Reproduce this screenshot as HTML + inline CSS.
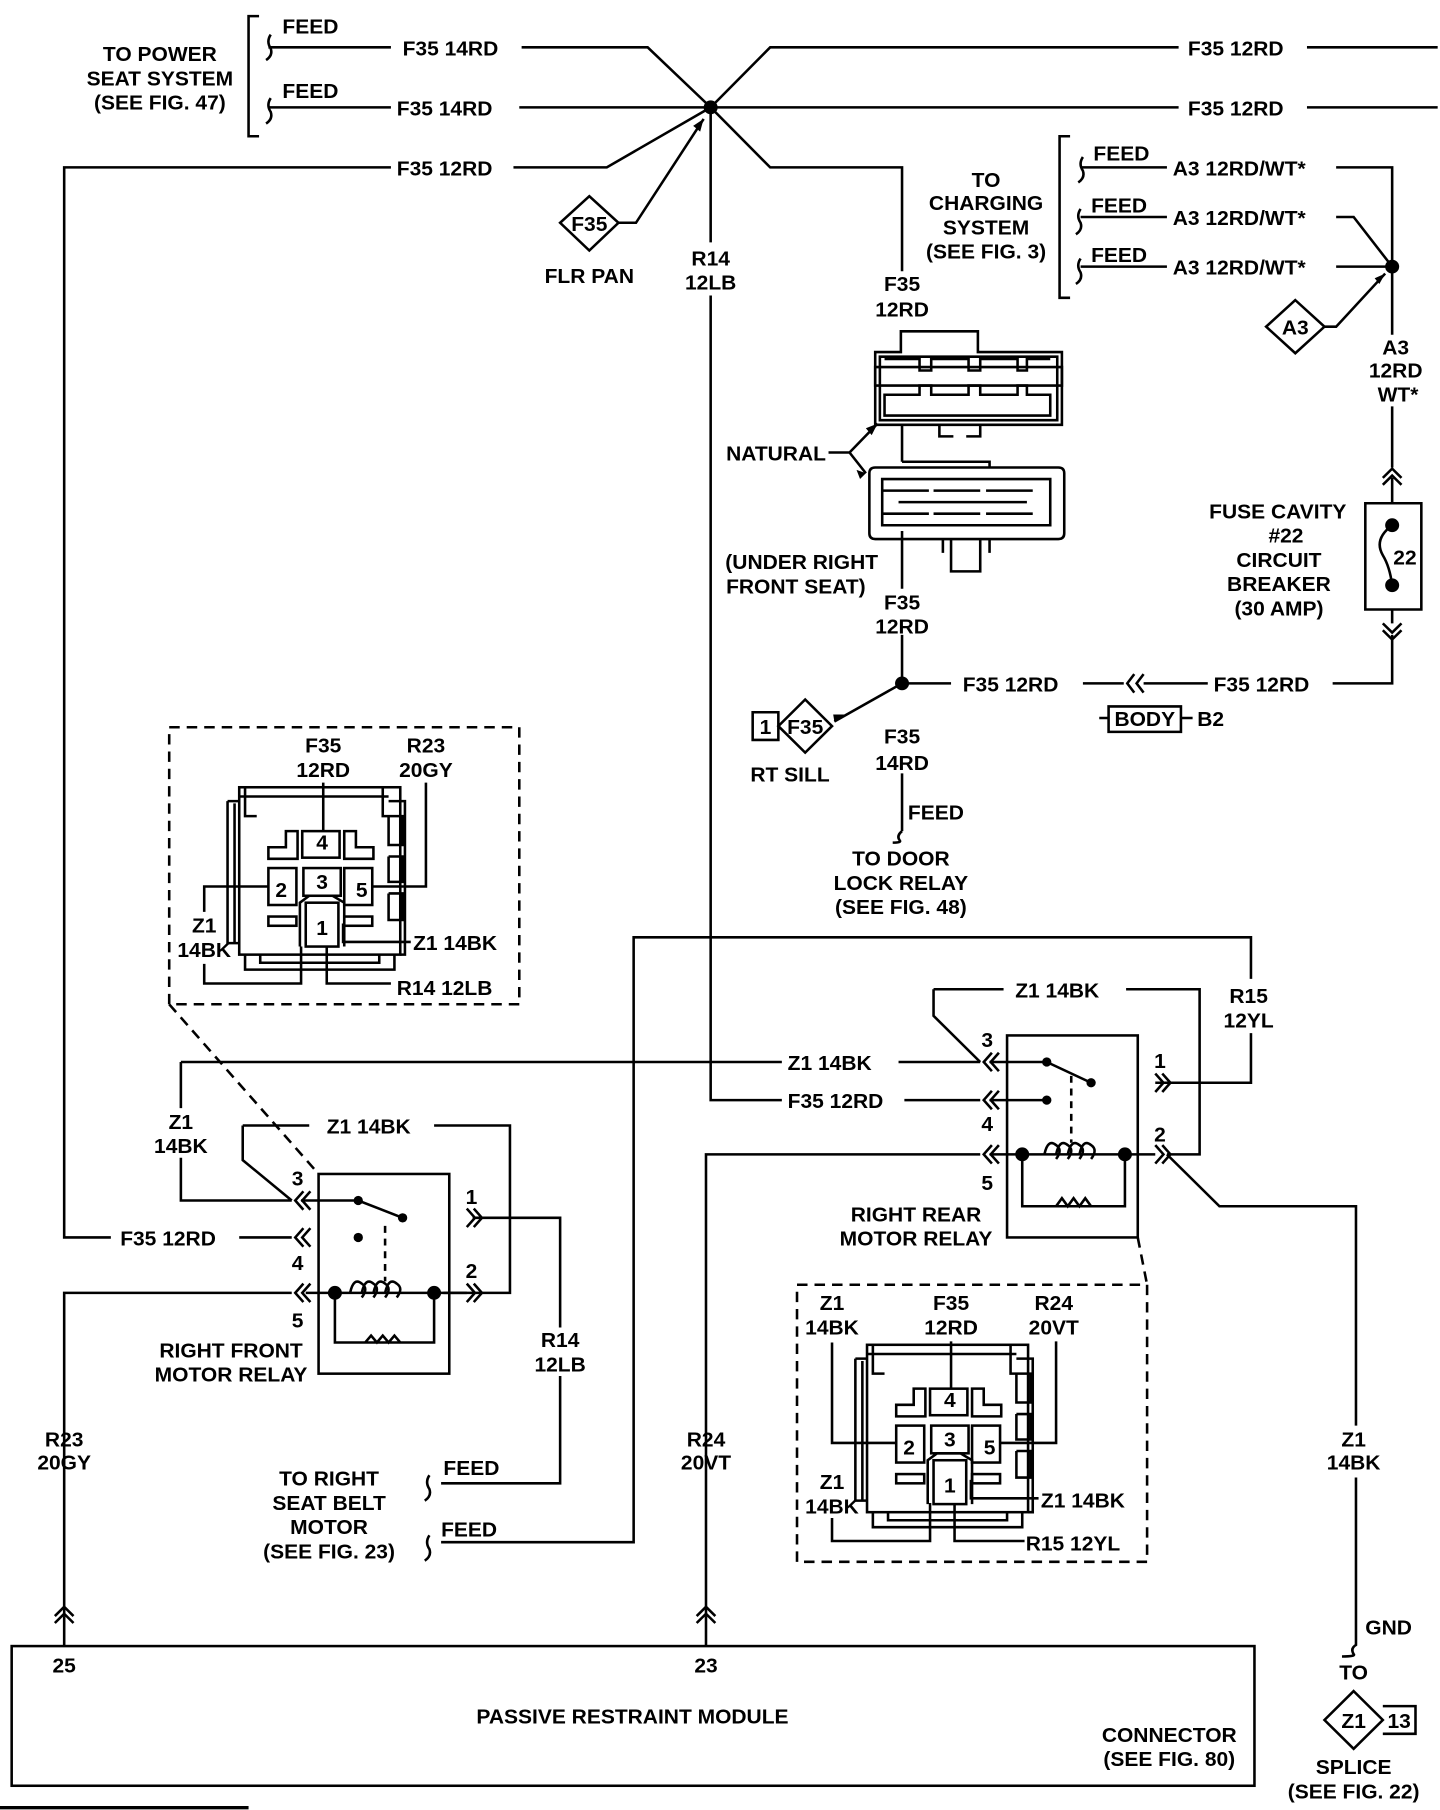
<!DOCTYPE html>
<html><head><meta charset="utf-8"><style>
html,body{margin:0;padding:0;background:#fff;}
svg{display:block;}
text{font-family:"Liberation Sans",sans-serif;font-weight:bold;font-size:18px;fill:#000;}
.m{text-anchor:middle;}
.e{text-anchor:end;}
</style></head><body>
<svg width="1440" height="1810" viewBox="0 0 1234 1568" preserveAspectRatio="none" xmlns="http://www.w3.org/2000/svg">
<g fill="none" stroke="#000" stroke-width="2.2">
<path d="M222,14 H213 V118 H222"/>
<path d="M232,30 q-4,6 0,12 q2,6 -4,10"/>
<path d="M232,85 q-4,6 0,12 q2,6 -4,10"/>
<path d="M230,41 H335 M447,41 H555 L609,93"/>
<path d="M230,93 H335 M445,93 H609"/>
<path d="M95,1072 H55 V145 H335 M440,145 H520 L609,93"/>
<path d="M609,93 L660,41 H1010 M1120,41 H1232"/>
<path d="M609,93 H1010 M1120,93 H1232"/>
<path d="M609,93 L660,145 H773 V235"/>
<path d="M609,93 V210 M609,256 V953 H670 M775,953 H840"/>
<path d="M505,170 L530,193 L505,217 L480,193 Z"/>
<path d="M530,193 H545 L603,103"/>
<path d="M750,305 H772 V287 H838 V305 H910 V368 H750 Z"/>
<path d="M754,309 H906 V364 H754 Z"/>
<path d="M750,318 H910 V334 H750 Z"/>
<path d="M758,311 h30 v10 h10 v-10 h32 v10 h10 v-10 h32 v10 h8 v-10 h20 M758,342 h30 v-8 h10 v8 h32 v-8 h10 v8 h32 v-8 h8 v8 h20 V360 H758 Z"/>
<path d="M805,368 v10 h12 M840,368 v10 h-12"/>
<path d="M745,410 q0,-5 5,-5 H907 q5,0 5,5 V462 q0,5 -5,5 H750 q-5,0 -5,-5 Z"/>
<path d="M773,400 H848 V405"/>
<path d="M756,415 H900 V455 H756 Z"/>
<path d="M756,425 h40 M800,425 h40 M845,425 h40 M756,445 h40 M800,445 h40 M845,445 h40 M770,435 h110"/>
<path d="M815,467 V495 H840 V467 M808,467 v12 M848,467 v12"/>
<path d="M773,368 V400 M773,460 V510 M773,550 V592"/>
<path d="M710,392 H728 L752,367 M728,392 L742,410"/>
<path d="M773,592 H815 M928,592 H963 M980,592 H1035 M1142,592 H1193 V550"/>
<path d="M972,584 l-6,8 l6,8 M980,584 l-6,8 l6,8"/>
<path d="M942,622 H950 M950,612 H1012 V634 H950 Z M1012,622 H1022"/>
<path d="M773,592 L715,625"/>
<path d="M645,617 H667 V641 H645 Z M690,606 L713,629 L690,652 L667,629 Z"/>
<path d="M773,670 V720 M773,720 q-5,4 -2,8 q2,2 -6,2"/>
<path d="M1193,352 V405 M1185,414 l8,-8 l8,8 M1185,420 l8,-8 l8,8 M1193,414 V436"/>
<path d="M1170,436 H1218 V528 H1170 Z"/>
<path d="M1193,455 q-16,12 -8,26 q6,10 8,26 M1193,528 V540 M1185,540 l8,8 l8,-8 M1185,546 l8,8 l8,-8"/>
<path d="M917,118 H908 V258 H917"/>
<path d="M928,136 q-4,6 0,12 q2,6 -4,10 M926,181 q-4,6 0,12 q2,6 -4,10 M926,224 q-4,6 0,12 q2,6 -4,10"/>
<path d="M926,145 H1000 M926,188 H1000 M926,231 H1000"/>
<path d="M1145,145 H1193 V231 M1145,188 H1160 L1193,231 M1145,231 H1193 V290"/>
<path d="M1110,260 L1135,283 L1110,306 L1085,283 Z M1135,283 H1145 L1187,237"/>
<rect x="145" y="630" width="300" height="240" stroke-dasharray="9,6"/>
<path d="M145,870 L273,1017" stroke-dasharray="9,6"/>
<rect x="683" y="1113" width="300" height="240" stroke-dasharray="9,6"/>
<path d="M975,1072 L983,1113" stroke-dasharray="9,6"/>
<g transform="translate(205,682)">
<rect x="0" y="0" width="138" height="145"/>
<path d="M-10,12 H0 M-10,12 V135 H0 M-4,14 V135 M0,8 H128 M5,0 V25 H15 M123,0 V25 H138 M128,12 H142 V145 H138 M128,25 H140 V50 H128 V25 M128,60 H140 V82 H128 V60 M128,92 H140 V115 H128 V92"/>
<path d="M5,145 V158 H133 V145 M18,145 V152 H120 V145"/>
<rect x="54" y="38" width="32" height="23"/>
<path d="M25,62 H50 V38 H40 V52 H25 Z M90,38 V62 H115 V52 H100 V38 Z"/>
<rect x="25" y="70" width="24" height="32"/>
<rect x="55" y="70" width="32" height="24"/>
<rect x="90" y="70" width="24" height="32"/>
<rect x="57" y="100" width="28" height="38"/>
<path d="M52,138 V100 L60,94 H80 L90,100 V138"/>
<rect x="25" y="112" width="24" height="8"/>
<rect x="90" y="112" width="24" height="8"/>
</g>
<g transform="translate(743,1165)">
<rect x="0" y="0" width="138" height="145"/>
<path d="M-10,12 H0 M-10,12 V135 H0 M-4,14 V135 M0,8 H128 M5,0 V25 H15 M123,0 V25 H138 M128,12 H142 V145 H138 M128,25 H140 V50 H128 V25 M128,60 H140 V82 H128 V60 M128,92 H140 V115 H128 V92"/>
<path d="M5,145 V158 H133 V145 M18,145 V152 H120 V145"/>
<rect x="54" y="38" width="32" height="23"/>
<path d="M25,62 H50 V38 H40 V52 H25 Z M90,38 V62 H115 V52 H100 V38 Z"/>
<rect x="25" y="70" width="24" height="32"/>
<rect x="55" y="70" width="32" height="24"/>
<rect x="90" y="70" width="24" height="32"/>
<rect x="57" y="100" width="28" height="38"/>
<path d="M52,138 V100 L60,94 H80 L90,100 V138"/>
<rect x="25" y="112" width="24" height="8"/>
<rect x="90" y="112" width="24" height="8"/>
</g>
<path d="M277,678 V720 M365,678 V768 H319 M230,768 H175 V790 M175,835 V852 H258 V820 M280,820 V852 H335 M294,800 V816 H352"/>
<path d="M815,1162 V1203 M905,1162 V1250 H857 M768,1250 H713 V1163 M713,1315 V1335 H797 V1302 M818,1302 V1335 H878 M832,1282 V1298 H890"/>
<rect x="273" y="1017" width="112" height="173"/>
<path d="M155,920 V960 M155,1003 V1040 H250 M208,975 H265 M372,975 H437 V1120 H380 M208,975 V1005 L250,1040"/>
<path d="M155,920 H670 M770,920 H840"/>
<path d="M205,1072 H250"/>
<path d="M55,1400 V1120 H250"/>
<path d="M258,1040 H307 L345,1055 M405,1055 H480 V1150 M480,1192 V1285 H378"/>
<path d="M260,1032 l-7,8 l7,8 M266,1032 l-7,8 l7,8 M260,1064 l-7,8 l7,8 M266,1064 l-7,8 l7,8 M260,1112 l-7,8 l7,8 M266,1112 l-7,8 l7,8"/>
<path d="M400,1047 l7,8 l-7,8 M406,1047 l7,8 l-7,8 M400,1112 l7,8 l-7,8 M406,1112 l7,8 l-7,8"/>
<path d="M262,1120 H400"/>
<path d="M330,1062 V1110" stroke-dasharray="6,5"/>
<path d="M287,1120 V1163 H372 V1120 M313,1163 l5,-6 l5,6 l5,-6 l5,6 l5,-6 l5,6"/>
<path d="M300,1120 q3,-14 10,-8 q6,4 0,12 M310,1120 q3,-14 10,-8 q6,4 0,12 M320,1120 q3,-14 10,-8 q6,4 0,12 M330,1120 q3,-14 10,-8 q6,4 0,12"/>
<rect x="863" y="897" width="112" height="175"/>
<path d="M800,857 V880 L840,920 M800,857 H860 M965,857 H1028 V1000 H1000"/>
<path d="M848,920 H897 L935,938 M990,938 H1072 V895 M1072,848 V812 H543 V1336 H378"/>
<path d="M605,1400 V1000 H840 M848,1000 H990 M848,953 H897"/>
<path d="M1000,1000 L1045,1045 H1162 V1235 M1162,1280 V1425 q-5,3 -2,8 q2,2 -10,2"/>
<path d="M918,932 V990" stroke-dasharray="6,5"/>
<path d="M876,1000 V1045 H964 V1000 M905,1045 l5,-7 l5,7 l5,-7 l5,7 l5,-7 l5,7"/>
<path d="M895,1000 q3,-14 10,-8 q6,4 0,12 M905,1000 q3,-14 10,-8 q6,4 0,12 M915,1000 q3,-14 10,-8 q6,4 0,12 M925,1000 q3,-14 10,-8 q6,4 0,12"/>
<path d="M850,912 l-7,8 l7,8 M856,912 l-7,8 l7,8 M850,945 l-7,8 l7,8 M856,945 l-7,8 l7,8 M850,992 l-7,8 l7,8 M856,992 l-7,8 l7,8"/>
<path d="M990,930 l7,8 l-7,8 M996,930 l7,8 l-7,8 M990,992 l7,8 l-7,8 M996,992 l7,8 l-7,8"/>
<path d="M47,1400 l8,-8 l8,8 M47,1406 l8,-8 l8,8 M55,1400 V1426 M597,1400 l8,-8 l8,8 M597,1406 l8,-8 l8,8 M605,1400 V1426"/>
<rect x="10" y="1426" width="1065" height="121"/>
<path d="M1160,1465 L1185,1490 L1160,1515 L1135,1490 Z M1185,1478 H1213 V1502 H1185"/>
<path d="M368,1278 q-4,6 0,12 q2,6 -4,10 M368,1330 q-4,6 0,12 q2,6 -4,10"/>
<path d="M0,1566 H213" stroke-width="3"/>
</g>
<g fill="#000">
<circle cx="609" cy="93" r="6"/><circle cx="773" cy="592" r="6"/><circle cx="1193" cy="231" r="6"/>
<circle cx="1193" cy="455" r="6"/><circle cx="1193" cy="507" r="6"/>
<circle cx="307" cy="1040" r="4"/><circle cx="345" cy="1055" r="4"/><circle cx="307" cy="1072" r="4"/>
<circle cx="287" cy="1120" r="6"/><circle cx="372" cy="1120" r="6"/>
<circle cx="897" cy="920" r="4"/><circle cx="935" cy="938" r="4"/><circle cx="897" cy="953" r="4"/>
<circle cx="876" cy="1000" r="6"/><circle cx="964" cy="1000" r="6"/>
<path d="M603,103 l-9,6 l6,5 Z M752,367 l-10,4 l5,6 Z M742,410 l-8,-3 l3,8 Z M715,625 l9,-6 l-10,0 Z M1187,237 l-9,4 l4,5 Z"/>
</g>
<text x="137" y="53" class="m">TO POWER</text>
<text x="137" y="74" class="m">SEAT SYSTEM</text>
<text x="137" y="95" class="m">(SEE FIG. 47)</text>
<text x="242" y="29">FEED</text><text x="242" y="85">FEED</text>
<text x="345" y="48">F35 14RD</text><text x="340" y="100">F35 14RD</text><text x="340" y="152">F35 12RD</text>
<text x="1018" y="48">F35 12RD</text><text x="1018" y="100">F35 12RD</text>
<text x="505" y="200" class="m" font-size="16">F35</text>
<text x="505" y="245" class="m">FLR PAN</text>
<text x="609" y="230" class="m">R14</text><text x="609" y="251" class="m">12LB</text>
<text x="773" y="252" class="m">F35</text><text x="773" y="274" class="m">12RD</text>
<text x="845" y="162" class="m">TO</text><text x="845" y="182" class="m">CHARGING</text><text x="845" y="203" class="m">SYSTEM</text><text x="845" y="224" class="m">(SEE FIG. 3)</text>
<text x="937" y="139">FEED</text><text x="935" y="184">FEED</text><text x="935" y="227">FEED</text>
<text x="1005" y="152">A3 12RD/WT*</text><text x="1005" y="195">A3 12RD/WT*</text><text x="1005" y="238">A3 12RD/WT*</text>
<text x="1110" y="290" class="m" font-size="16">A3</text>
<text x="1196" y="307" class="m">A3</text><text x="1196" y="327" class="m">12RD</text><text x="1198" y="348" class="m">WT*</text>
<text x="665" y="399" class="m">NATURAL</text>
<text x="687" y="493" class="m">(UNDER RIGHT</text><text x="682" y="514" class="m">FRONT SEAT)</text>
<text x="773" y="528" class="m">F35</text><text x="773" y="549" class="m">12RD</text>
<text x="1095" y="449" class="m">FUSE CAVITY</text><text x="1102" y="470" class="m">#22</text><text x="1096" y="491" class="m">CIRCUIT</text><text x="1096" y="512" class="m">BREAKER</text><text x="1096" y="533" class="m">(30 AMP)</text>
<text x="1204" y="489" class="m">22</text>
<text x="825" y="599">F35 12RD</text><text x="1040" y="599">F35 12RD</text>
<text x="981" y="629" class="m">BODY</text><text x="1026" y="629">B2</text>
<text x="656" y="636" class="m">1</text><text x="690" y="636" class="m" font-size="16">F35</text>
<text x="677" y="677" class="m">RT SILL</text>
<text x="773" y="644" class="m">F35</text><text x="773" y="667" class="m">14RD</text>
<text x="778" y="710">FEED</text>
<text x="772" y="750" class="m">TO DOOR</text><text x="772" y="771" class="m">LOCK RELAY</text><text x="772" y="792" class="m">(SEE FIG. 48)</text>
<text x="277" y="652" class="m">F35</text><text x="277" y="673" class="m">12RD</text>
<text x="365" y="652" class="m">R23</text><text x="365" y="673" class="m">20GY</text>
<text x="175" y="808" class="m">Z1</text><text x="175" y="829" class="m">14BK</text>
<text x="354" y="823">Z1 14BK</text><text x="340" y="862">R14 12LB</text>
<text x="241" y="777" class="m">2</text><text x="310" y="777" class="m">5</text><text x="276" y="810" class="m">1</text><text x="276" y="770" class="m" font-size="14">3</text><text x="276" y="736" class="m" font-size="14">4</text>
<text x="713" y="1135" class="m">Z1</text><text x="713" y="1156" class="m">14BK</text>
<text x="815" y="1135" class="m">F35</text><text x="815" y="1156" class="m">12RD</text>
<text x="903" y="1135" class="m">R24</text><text x="903" y="1156" class="m">20VT</text>
<text x="713" y="1290" class="m">Z1</text><text x="713" y="1311" class="m">14BK</text>
<text x="892" y="1306">Z1 14BK</text><text x="879" y="1343">R15 12YL</text>
<text x="779" y="1260" class="m">2</text><text x="848" y="1260" class="m">5</text><text x="814" y="1293" class="m">1</text><text x="814" y="1253" class="m" font-size="14">3</text><text x="814" y="1219" class="m" font-size="14">4</text>
<text x="155" y="978" class="m">Z1</text><text x="155" y="999" class="m">14BK</text>
<text x="280" y="982">Z1 14BK</text>
<text x="103" y="1079">F35 12RD</text>
<text x="255" y="1027" class="m">3</text><text x="255" y="1100" class="m">4</text><text x="255" y="1150" class="m">5</text>
<text x="404" y="1043" class="m">1</text><text x="404" y="1107" class="m">2</text>
<text x="198" y="1176" class="m">RIGHT FRONT</text><text x="198" y="1197" class="m">MOTOR RELAY</text>
<text x="480" y="1167" class="m">R14</text><text x="480" y="1188" class="m">12LB</text>
<text x="282" y="1287" class="m">TO RIGHT</text><text x="282" y="1308" class="m">SEAT BELT</text><text x="282" y="1329" class="m">MOTOR</text><text x="282" y="1350" class="m">(SEE FIG. 23)</text>
<text x="380" y="1278">FEED</text><text x="378" y="1331">FEED</text>
<text x="55" y="1253" class="m">R23</text><text x="55" y="1273" class="m">20GY</text>
<text x="605" y="1253" class="m">R24</text><text x="605" y="1273" class="m">20VT</text>
<text x="675" y="927">Z1 14BK</text><text x="675" y="960">F35 12RD</text>
<text x="870" y="864">Z1 14BK</text>
<text x="1070" y="869" class="m">R15</text><text x="1070" y="890" class="m">12YL</text>
<text x="846" y="907" class="m">3</text><text x="846" y="980" class="m">4</text><text x="846" y="1031" class="m">5</text>
<text x="994" y="925" class="m">1</text><text x="994" y="989" class="m">2</text>
<text x="785" y="1058" class="m">RIGHT REAR</text><text x="785" y="1079" class="m">MOTOR RELAY</text>
<text x="1160" y="1253" class="m">Z1</text><text x="1160" y="1273" class="m">14BK</text>
<text x="1170" y="1416">GND</text>
<text x="1160" y="1455" class="m">TO</text>
<text x="1160" y="1497" class="m" font-size="16">Z1</text><text x="1199" y="1497" class="m">13</text>
<text x="1160" y="1537" class="m">SPLICE</text><text x="1160" y="1558" class="m">(SEE FIG. 22)</text>
<text x="55" y="1449" class="m">25</text><text x="605" y="1449" class="m">23</text>
<text x="542" y="1493" class="m">PASSIVE RESTRAINT MODULE</text>
<text x="1002" y="1509" class="m">CONNECTOR</text><text x="1002" y="1530" class="m">(SEE FIG. 80)</text>
</svg>
</body></html>
